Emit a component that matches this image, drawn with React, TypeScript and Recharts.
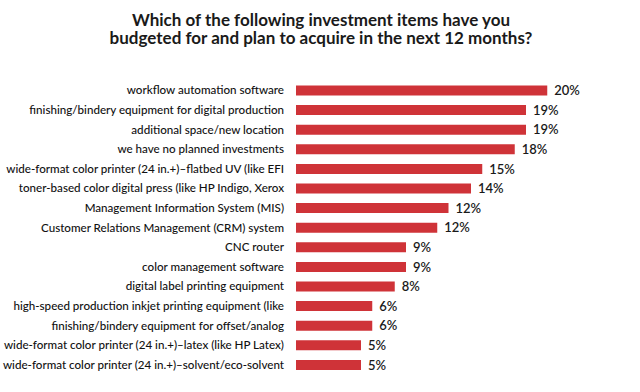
import React from "react";
import { BarChart, Bar, XAxis, YAxis, LabelList } from "recharts";

const categories = [
  "workflow automation software",
  "finishing/bindery equipment for digital production",
  "additional space/new location",
  "we have no planned investments",
  "wide-format color printer (24 in.+)–flatbed UV (like EFI",
  "toner-based color digital press (like HP Indigo, Xerox",
  "Management Information System (MIS)",
  "Customer Relations Management (CRM) system",
  "CNC router",
  "color management software",
  "digital label printing equipment",
  "high-speed production inkjet printing equipment (like",
  "finishing/bindery equipment for offset/analog",
  "wide-format color printer (24 in.+)–latex (like HP Latex)",
  "wide-format color printer (24 in.+)–solvent/eco-solvent",
];

const values = [20.1, 18.4, 18.4, 17.5, 14.9, 14.0, 12.2, 11.3, 8.8, 8.8, 7.9, 6.1, 6.1, 5.2, 5.2];

const valueLabels = ["20%", "19%", "19%", "18%", "15%", "14%", "12%", "12%", "9%", "9%", "8%", "6%", "6%", "5%", "5%"];

const titleLines = [
  "Which of the following investment items have you",
  "budgeted for and plan to acquire in the next 12 months?",
];

const data = categories.map((c, i) => ({ name: c, value: values[i], label: valueLabels[i] }));

const CategoryTick = (props: any) => {
  const { x, y, payload } = props;
  return (
    <text
      x={x}
      y={y}
      dy="0.355em"
      textAnchor="end"
      fontFamily="Lato"
      fontSize={11.6}
      fontWeight={500}
      fill="#111"
    >
      {payload.value}
    </text>
  );
};

export default function App() {
  return (
    <div style={{ position: "fixed", left: 0, top: 0, width: 640, height: 392, background: "#fff", fontFamily: "Lato" }}>
      <div
        style={{
          position: "absolute",
          left: 0,
          top: 11,
          width: 642,
          textAlign: "center",
          fontFamily: "Lato",
          fontWeight: 700,
          fontSize: 17,
          lineHeight: "18px",
          color: "#1a1a1a",
        }}
      >
        {titleLines.map((t, i) => (
          <div key={i}>{t}</div>
        ))}
      </div>
      <BarChart
        width={640}
        height={392}
        data={data}
        layout="vertical"
        margin={{ top: 80.5, right: 44, bottom: 17.5, left: 0 }}
        barSize={10}
      >
        <XAxis type="number" hide domain={[0, 24]} />
        <YAxis
          type="category"
          dataKey="name"
          width={296}
          tickLine={false}
          axisLine={false}
          tickMargin={6}
          interval={0}
          tick={<CategoryTick />}
        />
        <Bar dataKey="value" fill="#cf3338" isAnimationActive={false}>
          <LabelList
            dataKey="label"
            position="right"
            offset={7}
            style={{ fontFamily: "Lato", fontSize: 13, fill: "#1a1a1a", fontWeight: 600 }}
          />
        </Bar>
      </BarChart>
    </div>
  );
}
